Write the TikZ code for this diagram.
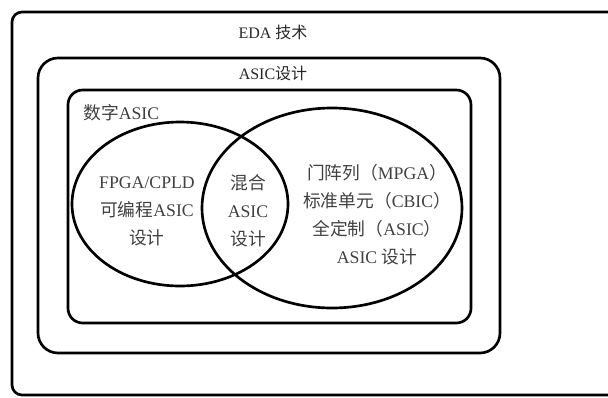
\documentclass[tikz,border=0pt]{standalone}
\usepackage{fontspec}
\setmainfont{Liberation Serif}
\newfontfamily\cjk{Noto Sans CJK SC}
\newcommand{\zh}[1]{{\cjk #1}}
\usetikzlibrary{shapes.geometric}
\tikzset{
  frm/.style ={draw=black,line width=2pt},
  ovl/.style ={ellipse,draw=black,line width=2pt,inner sep=0pt,outer sep=0pt},
  ttl/.style ={font=\fontsize{12}{14}\selectfont,text=black!85,inner sep=1pt},
  txt/.style ={font=\fontsize{13.3}{21}\selectfont,text=black!75,align=center,inner sep=0pt},
}

\begin{document}
\begin{tikzpicture}[x=0.75pt,y=-0.75pt,every node/.style={outer sep=0pt}]
\useasboundingbox (0,0) rectangle (608,397);
\clip (0,0) rectangle (608,397);

% nested frames
\draw[frm,rounded corners=7.5pt] (12,12)  rectangle (650,395);
\draw[frm,rounded corners=15pt]  (38,58)  rectangle (500,353);
\draw[frm,rounded corners=11pt]  (68,90)  rectangle (471,323);

\node[ttl] (eda)  at (273,32) {EDA \zh{技术}};
\node[ttl] (asic) at (273,73) {ASIC\zh{设计}};
\node[ttl,font=\fontsize{13.3}{15}\selectfont,text=black!75,anchor=west] (dig) at (82,113) {\zh{数字}ASIC};

% the two sets
\node[ovl,minimum width=162pt,minimum height=123pt] (fpga) at (180,204) {};
\node[ovl,minimum width=195pt,minimum height=150pt] (full) at (332,208) {};

\node[txt] (prog) at (147,211) {FPGA/CPLD\\\zh{可编程}ASIC\\\zh{设计}};
\node[txt] (mix)  at (248,211) {\zh{混合}\\ASIC\\\zh{设计}};
\node[txt] (cell) at (377,215) {\zh{门阵列（}MPGA\zh{）}\\\zh{标准单元（}CBIC\zh{）}\\
                                \zh{全定制（}ASIC\zh{）}\\ASIC \zh{设计}};
\end{tikzpicture}
\end{document}
